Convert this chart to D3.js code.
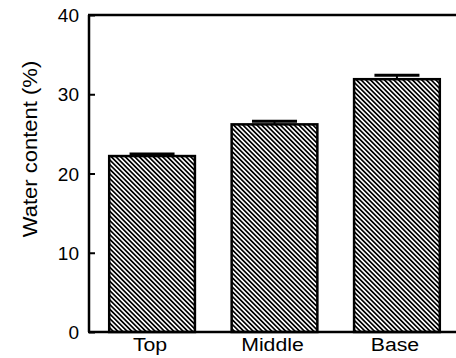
<!DOCTYPE html>
<html>
<head>
<meta charset="utf-8">
<script src="https://cdn.jsdelivr.net/npm/d3@7"></script>
<style>
  html, body { margin: 0; padding: 0; background: #fff; }
  svg { display: block; }
  text { font-family: "Liberation Sans", Arial, Helvetica, sans-serif; fill: #000; }
</style>
</head>
<body>
<svg id="chart" width="456" height="358"></svg>
<script>
// Water content by position
const categories = ["Top", "Middle", "Base"];
const values = [22.2, 26.2, 31.9];
const errors = [0.25, 0.4, 0.5];
const yTicks = [0, 10, 20, 30, 40];
const yLabel = "Water content (%)";

const svg = d3.select("#chart");
const margin = { left: 89, top: 15, bottom: 332, right: 460 };

const x = d3.scaleBand()
  .domain(categories)
  .range([margin.left, margin.right])
  .paddingInner(0.3)
  .paddingOuter(0.165);

const y = d3.scaleLinear()
  .domain([0, 40])
  .range([margin.bottom, margin.top]);

// diagonal hatch fill
const defs = svg.append("defs");
const pat = defs.append("pattern")
  .attr("id", "hatch")
  .attr("patternUnits", "userSpaceOnUse")
  .attr("width", 3.3)
  .attr("height", 10)
  .attr("patternTransform", "rotate(-45)");
pat.append("rect").attr("width", 3.3).attr("height", 10).attr("fill", "#fff");
pat.append("rect").attr("width", 1.7).attr("height", 10).attr("fill", "#000");

// bars
svg.selectAll("rect.bar")
  .data(categories)
  .join("rect")
  .attr("class", "bar")
  .attr("x", d => x(d))
  .attr("y", (d, i) => y(values[i]))
  .attr("width", x.bandwidth())
  .attr("height", (d, i) => y(0) - y(values[i]))
  .attr("fill", "url(#hatch)")
  .attr("stroke", "#000")
  .attr("stroke-width", 2.5);

// error bars (upper half with cap)
const capW = 45;
svg.selectAll("line.err")
  .data(categories)
  .join("line")
  .attr("class", "err")
  .attr("x1", d => x(d) + x.bandwidth() / 2)
  .attr("x2", d => x(d) + x.bandwidth() / 2)
  .attr("y1", (d, i) => y(values[i]))
  .attr("y2", (d, i) => y(values[i] + errors[i]))
  .attr("stroke", "#000")
  .attr("stroke-width", 2);
svg.selectAll("line.cap")
  .data(categories)
  .join("line")
  .attr("class", "cap")
  .attr("x1", d => x(d) + x.bandwidth() / 2 - capW / 2)
  .attr("x2", d => x(d) + x.bandwidth() / 2 + capW / 2)
  .attr("y1", (d, i) => y(values[i] + errors[i]))
  .attr("y2", (d, i) => y(values[i] + errors[i]))
  .attr("stroke", "#000")
  .attr("stroke-width", 3);

// left axis with inward ticks
const yAxis = d3.axisRight(y)
  .tickValues(yTicks)
  .tickSize(6)
  .tickFormat("");
const gy = svg.append("g")
  .attr("transform", `translate(${margin.left},0)`)
  .call(yAxis);
gy.select(".domain").remove();
gy.selectAll(".tick line").attr("stroke", "#000").attr("stroke-width", 2);

svg.append("g").selectAll("text")
  .data(yTicks)
  .join("text")
  .attr("x", margin.left - 10)
  .attr("y", d => y(d))
  .attr("dy", "0.38em")
  .attr("text-anchor", "end")
  .attr("font-size", 19)
  .text(d => d);

// frame lines: left, top, bottom
svg.append("line")
  .attr("x1", margin.left).attr("x2", margin.left)
  .attr("y1", y(40)).attr("y2", y(0))
  .attr("stroke", "#000").attr("stroke-width", 2.5);
svg.append("line")
  .attr("x1", margin.left - 1).attr("x2", 456)
  .attr("y1", y(40)).attr("y2", y(40))
  .attr("stroke", "#000").attr("stroke-width", 2.5);
svg.append("line")
  .attr("x1", margin.left - 1).attr("x2", 456)
  .attr("y1", y(0)).attr("y2", y(0))
  .attr("stroke", "#000").attr("stroke-width", 2.5);

// category labels (slightly wide lettering)
svg.append("g").selectAll("text")
  .data(categories)
  .join("text")
  .attr("transform", d => `translate(${x(d) + x.bandwidth() / 2 - 2},351) scale(1.12,1)`)
  .attr("text-anchor", "middle")
  .attr("font-size", 19)
  .text(d => d);

// y-axis title
svg.append("text")
  .attr("transform", "translate(37,149) rotate(-90) scale(1.1,1)")
  .attr("text-anchor", "middle")
  .attr("font-size", 20)
  .text(yLabel);
</script>
</body>
</html>
